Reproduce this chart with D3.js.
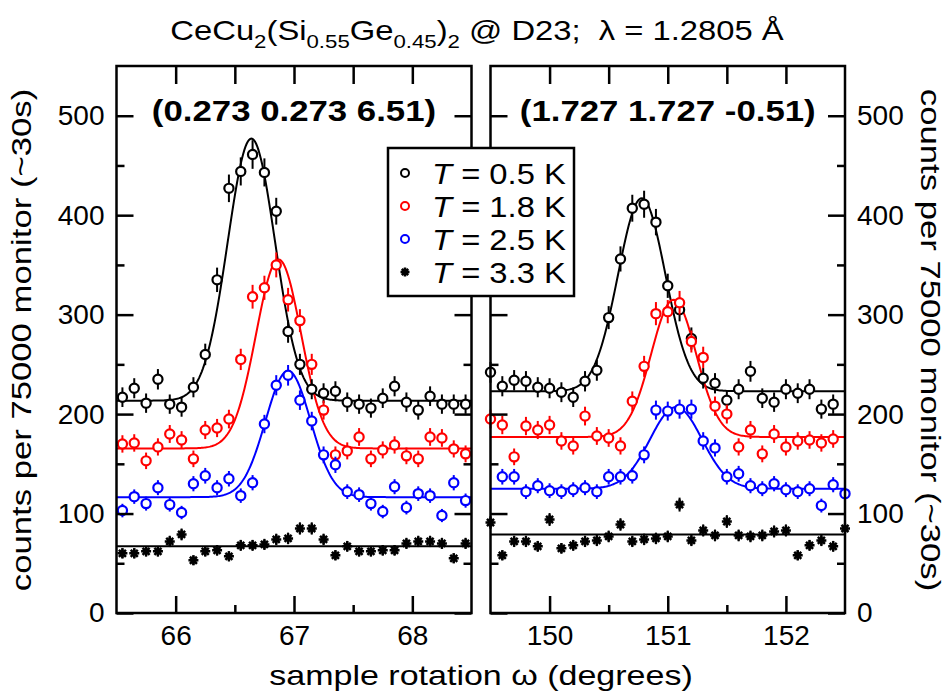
<!DOCTYPE html>
<html>
<head>
<meta charset="utf-8">
<script src="https://cdn.jsdelivr.net/npm/d3@7"></script>
<style>
  body { margin: 0; background: #fff; }
  svg { display: block; }
  text { font-family: "Liberation Sans", Arial, Helvetica, sans-serif; fill: #000; }
</style>
</head>
<body>
<svg id="chart" width="951" height="696"></svg>
<script>
// ---- scan data: counts per 75000 monitor vs. sample rotation omega ----
const temperatures = ["0.5", "1.8", "2.5", "3.3"];
const seriesColors = ["#000000", "#ff0000", "#0000ff", "#000000"];

// (0.273 0.273 6.51) scan
const leftOmega = [65.55, 65.65, 65.75, 65.85, 65.95, 66.05, 66.15, 66.25, 66.35, 66.45,
                   66.55, 66.65, 66.75, 66.85, 66.95, 67.05, 67.15, 67.25, 67.35, 67.45,
                   67.55, 67.65, 67.75, 67.85, 67.95, 68.05, 68.15, 68.25, 68.35, 68.45];
const left05 = [217, 226, 211, 235, 210, 207, 227, 260, 335, 427, 444, 461, 443, 404, 283,
                250, 225, 221, 223, 212, 210, 206, 216, 228, 212, 204, 218, 210, 210, 210];
const left18 = [170, 171, 153, 167, 180, 174, 155, 184, 186, 195, 255, 318, 327, 350, 315,
                294, 250, 204, 159, 163, 177, 155, 164, 169, 158, 155, 177, 176, 165, 160];
const left25 = [103, 117, 110, 126, 109, 101, 130, 138, 126, 135, 118, 131, 190, 229, 239,
                214, 193, 159, 149, 122, 119, 110, 102, 127, 106, 120, 118, 98, 131, 113];
const left33 = [60, 60, 62, 62, 72, 79, 53, 62, 63, 57, 68, 68, 69, 74, 75,
                85, 85, 74, 58, 67, 62, 62, 63, 63, 70, 72, 72, 70, 55, 70];

// (1.727 1.727 -0.51) scan
const rightOmega = [149.5, 149.6, 149.7, 149.8, 149.9, 150.0, 150.1, 150.2, 150.3, 150.4,
                    150.5, 150.6, 150.7, 150.8, 150.9, 151.0, 151.1, 151.2, 151.3, 151.4,
                    151.5, 151.6, 151.7, 151.8, 151.9, 152.0, 152.1, 152.2, 152.3, 152.4];
const rightOmegaB = [149.6, 149.7, 149.8, 149.9, 150.0, 150.1, 150.2, 150.3, 150.4, 150.5,
                     150.6, 150.7, 150.8, 150.9, 151.0, 151.1, 151.2, 151.3, 151.4, 151.5,
                     151.6, 151.7, 151.8, 151.9, 152.0, 152.1, 152.2, 152.3, 152.4, 152.5];
const rightOmegaS = [149.5, 149.6, 149.7, 149.8, 149.9, 150.0, 150.1, 150.2, 150.3, 150.4,
                     150.5, 150.6, 150.7, 150.8, 150.9, 151.0, 151.1, 151.2, 151.3, 151.4,
                     151.5, 151.6, 151.7, 151.8, 151.9, 152.0, 152.1, 152.2, 152.3, 152.4, 152.5];
const right05 = [242, 228, 234, 233, 227, 226, 222, 217, 233, 244, 297, 356, 407, 411, 393,
                 329, 305, 276, 236, 231, 214, 225, 243, 216, 212, 225, 221, 225, 205, 210];
const right18 = [195, 189, 157, 188, 184, 189, 173, 168, 198, 178, 176, 168, 213, 248, 301,
                 303, 312, 273, 257, 208, 200, 167, 184, 160, 180, 167, 173, 174, 171, 175];
const right25 = [137, 137, 122, 128, 123, 122, 124, 126, 122, 137, 137, 138, 159, 204, 203,
                 205, 205, 173, 166, 137, 140, 128, 125, 130, 124, 122, 125, 108, 129, 120];
const right33 = [91, 58, 72, 72, 67, 94, 65, 68, 72, 73, 77, 89, 72, 74, 75, 77,
                 109, 73, 83, 78, 92, 78, 77, 78, 82, 83, 58, 68, 73, 67, 85];

// Gaussian + flat background fits: [background, amplitude, centre, sigma]
const leftFit05 = [213.5, 263.5, 66.64, 0.20];
const leftFit18 = [165.5, 190, 66.87, 0.19];
const leftFit25 = [116.5, 127, 66.95, 0.19];
const leftFit33 = [67, 0, 67, 1];
const rightFit05 = [223, 194, 150.78, 0.20];
const rightFit18 = [177, 138, 151.05, 0.19];
const rightFit25 = [125, 82, 151.07, 0.22];
const rightFit33 = [79, 0, 151, 1];

// axis ticks
const yMajor = [0, 100, 200, 300, 400, 500];
const yMinor = [50, 150, 250, 350, 450];
const leftMajor = [66, 67, 68];
const leftMinor = [66.5, 67.5];
const rightMajor = [150, 151, 152];
const rightMinor = [150.5, 151.5];

// ---- layout ----
const svg = d3.select("#chart");
const frameTop = 66, frameBottom = 613;
const y = d3.scaleLinear().domain([0, 550]).range([frameBottom, frameTop]);
const countError = v => Math.sqrt(0.45 * v);   // Poisson-style error bar

const panels = [
  { x0: 116.5, x1: 471.5, domain: [65.5, 68.5], major: leftMajor, minor: leftMinor,
    label: "(0.273 0.273 6.51)",
    series: [
      { om: leftOmega, v: left05, fit: leftFit05 },
      { om: leftOmega, v: left18, fit: leftFit18 },
      { om: leftOmega, v: left25, fit: leftFit25 },
      { om: leftOmega, v: left33, fit: leftFit33 }
    ] },
  { x0: 490.5, x1: 845, domain: [149.5, 152.5], major: rightMajor, minor: rightMinor,
    label: "(1.727 1.727 -0.51)",
    series: [
      { om: rightOmega, v: right05, fit: rightFit05 },
      { om: rightOmega, v: right18, fit: rightFit18 },
      { om: rightOmegaB, v: right25, fit: rightFit25 },
      { om: rightOmegaS, v: right33, fit: rightFit33 }
    ] }
];

const starPath = r => {
  const d = r * Math.SQRT1_2;
  return `M${-r},0L${r},0M0,${-r}L0,${r}M${-d},${-d}L${d},${d}M${-d},${d}L${d},${-d}`;
};

// text placed with a horizontal stretch
const wideText = (parent, tx, ty, sx, size, rot = 0, anchor = "middle") =>
  parent.append("text")
    .attr("transform", `translate(${tx},${ty}) rotate(${rot}) scale(${sx},1)`)
    .attr("text-anchor", anchor).style("font-size", size + "px");

const MAJ = 17, MIN = 8, TOPT = 18;

panels.forEach((p, pi) => {
  const x = d3.scaleLinear().domain(p.domain).range([p.x0, p.x1]);
  const g = svg.append("g");
  const clipId = "clip" + pi;
  svg.append("clipPath").attr("id", clipId)
    .append("rect").attr("x", p.x0).attr("y", frameTop).attr("width", p.x1 - p.x0).attr("height", frameBottom - frameTop);

  const plot = g.append("g").attr("clip-path", `url(#${clipId})`);

  // fit curves
  p.series.forEach((s, si) => {
    const [bg, amp, c, sig] = s.fit;
    const grid = d3.range(0, 301).map(i => p.domain[0] + (p.domain[1] - p.domain[0]) * i / 300);
    const line = d3.line()
      .x(d => x(d))
      .y(d => y(bg + amp * Math.exp(-((d - c) ** 2) / (2 * sig * sig))));
    plot.append("path").datum(grid).attr("d", line)
      .attr("fill", "none").attr("stroke", seriesColors[si]).attr("stroke-width", 2);
  });

  // data points with error bars
  const markers = g.append("g");
  p.series.forEach((s, si) => {
    const pts = s.om.map((o, i) => ({ o, v: s.v[i] }));
    const grp = markers.append("g");
    grp.selectAll("line.err").data(pts).join("line")
      .attr("x1", d => x(d.o)).attr("x2", d => x(d.o))
      .attr("y1", d => y(d.v + countError(d.v))).attr("y2", d => y(d.v - countError(d.v)))
      .attr("stroke", seriesColors[si]).attr("stroke-width", 2);
    if (si < 3) {
      grp.selectAll("circle").data(pts).join("circle")
        .attr("cx", d => x(d.o)).attr("cy", d => y(d.v)).attr("r", 4.6)
        .attr("fill", "#fff").attr("stroke", seriesColors[si]).attr("stroke-width", 2.2);
    } else {
      grp.selectAll("path").data(pts).join("path")
        .attr("transform", d => `translate(${x(d.o)},${y(d.v)})`)
        .attr("d", starPath(5)).attr("stroke", "#000").attr("stroke-width", 2.5);
    }
  });

  // frame
  g.append("rect").attr("x", p.x0).attr("y", frameTop).attr("width", p.x1 - p.x0).attr("height", frameBottom - frameTop)
    .attr("fill", "none").attr("stroke", "#000").attr("stroke-width", 2.5);

  const tickStyle = sel => {
    sel.select(".domain").remove();
    sel.selectAll(".tick line").attr("stroke", "#000").attr("stroke-width", 2.5);
    sel.selectAll("text").style("font-size", "28px");
  };

  // bottom axis
  g.append("g").attr("transform", `translate(0,${frameBottom})`)
    .call(d3.axisBottom(x).tickValues(p.major).tickFormat(d3.format("d")).tickSize(-MAJ).tickPadding(12))
    .call(tickStyle);
  g.append("g").attr("transform", `translate(0,${frameBottom})`)
    .call(d3.axisBottom(x).tickValues(p.minor).tickFormat("").tickSize(-MIN))
    .call(tickStyle);
  // top axis
  g.append("g").attr("transform", `translate(0,${frameTop})`)
    .call(d3.axisTop(x).tickValues(p.major.concat(p.minor)).tickFormat("").tickSize(-TOPT))
    .call(tickStyle);

  // vertical axes
  const leftAx = d3.axisLeft(y).tickValues(yMajor).tickSize(-MAJ).tickPadding(12)
    .tickFormat(pi === 0 ? d3.format("d") : "");
  g.append("g").attr("transform", `translate(${p.x0},0)`).call(leftAx).call(tickStyle);
  g.append("g").attr("transform", `translate(${p.x0},0)`)
    .call(d3.axisLeft(y).tickValues(yMinor).tickSize(-MIN).tickFormat("")).call(tickStyle);
  const rightAx = d3.axisRight(y).tickValues(yMajor).tickSize(-MAJ).tickPadding(12)
    .tickFormat(pi === 1 ? d3.format("d") : "");
  g.append("g").attr("transform", `translate(${p.x1},0)`).call(rightAx).call(tickStyle);
  g.append("g").attr("transform", `translate(${p.x1},0)`)
    .call(d3.axisRight(y).tickValues(yMinor).tickSize(-MIN).tickFormat("")).call(tickStyle);

  // reflection label
  wideText(g, (p.x0 + p.x1) / 2, 121, 1.16, 30).style("font-weight", "bold").text(p.label);
});

// title
const title = wideText(svg, 477, 40, 1.17, 28);
const sub = (t) => title.append("tspan").attr("dy", 8).style("font-size", "19px").text(t);
const base = (t) => title.append("tspan").attr("dy", -8).text(t);
title.append("tspan").text("CeCu");
sub("2"); base("(Si"); sub("0.55"); base("Ge"); sub("0.45"); base(")"); sub("2");
base(" @ D23;\u00a0\u00a0\u03bb = 1.2805 \u00c5");

// axis titles
wideText(svg, 31, 340, 1.24, 28, -90).text("counts per 75000 monitor (~30s)");
wideText(svg, 921, 340, 1.24, 28, 90).text("counts per 75000 monitor (~30s)");
wideText(svg, 481, 685, 1.26, 27).text("sample rotation \u03c9 (degrees)");

// legend
const lg = svg.append("g");
lg.append("rect").attr("x", 388).attr("y", 148).attr("width", 186).attr("height", 148)
  .attr("fill", "#fff").attr("stroke", "#000").attr("stroke-width", 2.5);
temperatures.forEach((t, i) => {
  const ly = 173 + i * 33;
  if (i < 3) {
    lg.append("circle").attr("cx", 405).attr("cy", ly).attr("r", 4)
      .attr("fill", "#fff").attr("stroke", seriesColors[i]).attr("stroke-width", 2);
  } else {
    lg.append("path").attr("transform", `translate(405,${ly})`).attr("d", starPath(4.5))
      .attr("stroke", "#000").attr("stroke-width", 2.5);
  }
  const tx = wideText(lg, 432, ly + 10.5, 1.13, 29, 0, "start");
  tx.append("tspan").style("font-style", "italic").text("T");
  tx.append("tspan").text(` = ${t} K`);
});
</script>
</body>
</html>
